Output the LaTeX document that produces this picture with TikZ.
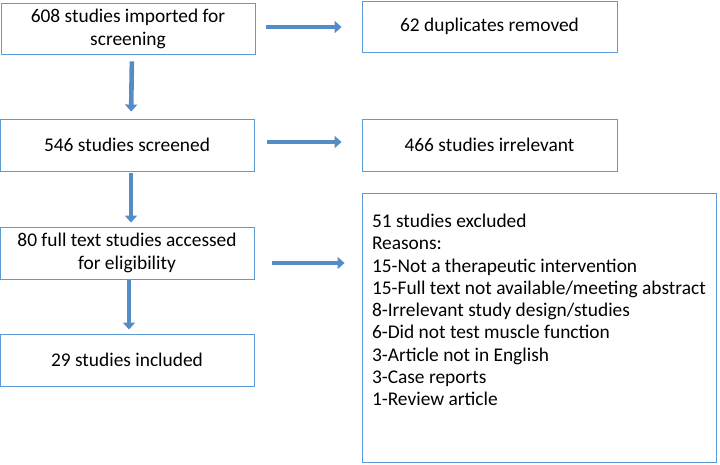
\documentclass[tikz,border=0pt]{standalone}
\usepackage{fontspec}
\setmainfont{Carlito}
\usetikzlibrary{arrows.meta}
\definecolor{boxblue}{RGB}{91,155,213}
\definecolor{arrblue}{RGB}{84,140,200}
\tikzset{
  box/.style={draw=boxblue, line width=0.9pt, fill=white, align=center,
    font=\fontsize{19.4}{23}\selectfont, inner sep=2pt},
  arr/.style={draw=arrblue, line width=4.6pt,
    -{Triangle[width=12pt,length=7pt]}}
}
\begin{document}
\begin{tikzpicture}[x=1pt,y=-1pt]
\useasboundingbox (0,0) rectangle (720,464);
\node[box, minimum width=254pt, minimum height=51pt] (b1) at (128,28.5)
  {608 studies imported for\\screening};
\node[box, minimum width=255pt, minimum height=51pt] (b2) at (489.5,26.5)
  {62 duplicates removed};
\node[box, minimum width=254pt, minimum height=52pt] (b3) at (127,145)
  {546 studies screened};
\node[box, minimum width=255pt, minimum height=52pt] (b4) at (489.5,145)
  {466 studies irrelevant};
\node[box, minimum width=254pt, minimum height=52pt] (b5) at (127,253)
  {80 full text studies accessed\\for eligibility};
\node[box, inner xsep=10pt, inner ysep=0pt, align=left,
  font=\fontsize{19.4}{22.3}\selectfont] (b6) at (539,327.5)
  {\begin{minipage}[c][269pt][t]{334pt}\vspace*{21pt}51 studies excluded\\
Reasons:\\
15-Not a therapeutic intervention\\
15-Full text not available/meeting abstract\\
8-Irrelevant study design/studies\\
6-Did not test muscle function\\
3-Article not in English\\
3-Case reports\\
1-Review article\end{minipage}};
\node[box, minimum width=254pt, minimum height=52pt] (b7) at (127,360)
  {29 studies included};
\draw[arr, shorten <=7pt, shorten >=7pt] ([xshift=4pt]b1.south) -- ([xshift=4pt]b3.north);
\draw[arr, shorten <=2pt, shorten >=4pt] ([xshift=4pt]b3.south) -- ([xshift=4pt]b5.north);
\draw[arr, shorten <=1pt, shorten >=4pt] ([xshift=2pt]b5.south) -- ([xshift=2pt]b7.north);
\draw[arr, shorten <=11pt, shorten >=20pt] (b1.east |- 0,27) -- (b2.west |- 0,27);
\draw[arr, shorten <=13pt, shorten >=20pt] (b3.east |- 0,142) -- (b4.west |- 0,142);
\draw[arr, shorten <=18pt, shorten >=17pt] (b5.east |- 0,263) -- (b6.west |- 0,263);
\end{tikzpicture}
\end{document}
